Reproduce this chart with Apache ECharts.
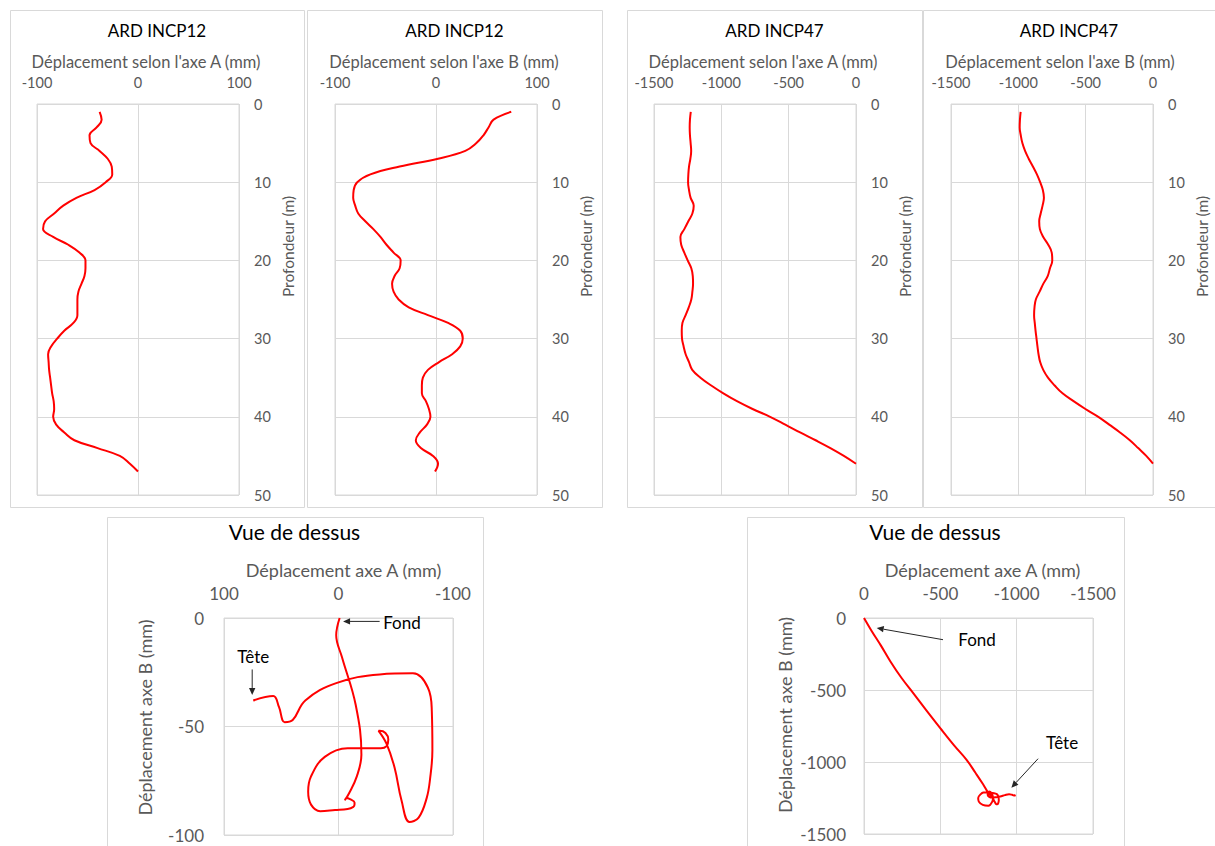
<!DOCTYPE html>
<html><head><meta charset="utf-8">
<script src="https://cdn.jsdelivr.net/npm/echarts@6/dist/echarts.min.js"></script>
<style>html,body{margin:0;padding:0;background:#fff}#c{width:1215px;height:846px}</style>
</head><body><div id="c"></div>
<script>
// ---------- DATA ----------
const depth12 = [1,2,3,4,5,6,7,8,9,10,11,12,13,14,15,16,17,18,19,20,21,22,23,24,25,26,27,28,29,30,31,32,33,34,35,36,37,38,39,40,41,42,43,44,45,46,47];
const incp12A = [-38,-36,-41,-48,-47,-38,-30,-26,-25.5,-32,-43,-61,-74,-83,-92,-94,-84,-69,-58,-52,-52,-53,-56,-59,-60,-60,-60,-64,-73,-80,-86,-89,-88.5,-88,-87,-86,-85,-83.5,-83,-84,-81,-73,-63,-40,-18,-8,0];
const incp12B = [74.5,57,52,47,40,29,2,-36,-65,-78,-81.5,-82,-80,-77,-70,-62,-55,-49,-42,-35,-36,-41,-43.5,-42,-37,-27,-8,12,24,26.5,24,16,3,-8,-13,-14,-14,-10,-7,-5.5,-9,-16,-20,-15,-3,2,-1];

const depth47 = [1,2,3,4,5,6,7,8,9,10,11,12,13,14,15,16,17,18,19,20,21,22,23,24,25,26,27,28,29,30,31,32,33,34,35,36,37,38,39,40,41,42,43,44,45,46];
const incp47A = [-1227,-1233,-1235,-1233,-1228,-1224,-1230,-1240,-1245,-1247,-1240,-1228,-1205,-1215,-1245,-1275,-1304,-1298,-1275,-1250,-1223,-1212,-1210,-1215,-1223,-1242,-1265,-1289,-1294,-1292,-1280,-1265,-1240,-1216,-1155,-1075,-985,-884,-768,-638,-525,-415,-300,-190,-90,0];
const incp47B = [-983,-988,-990,-982,-970,-950,-923,-892,-862,-838,-818,-810,-820,-834,-845,-840,-815,-778,-752,-748,-765,-782,-815,-842,-870,-880,-883,-878,-872,-865,-858,-850,-838,-815,-780,-730,-672,-590,-502,-406,-325,-245,-172,-110,-50,0];

const panelTitles = ['ARD INCP12','ARD INCP12','ARD INCP47','ARD INCP47','Vue de dessus','Vue de dessus'];
const profileAxisNames = ["Déplacement selon l'axe A (mm)","Déplacement selon l'axe B (mm)","Déplacement selon l'axe A (mm)","Déplacement selon l'axe B (mm)"];
const depthAxisName = 'Profondeur (m)';
const topAxisNameX = 'Déplacement axe A (mm)';
const topAxisNameY = 'Déplacement axe B (mm)';
const depthRange = [0, 50, 10];
const range12 = [-100, 100, 100];
const range47 = [-1500, 0, 500];
const top12Y = [-100, 0, 50];
const top47Y = [-1500, 0, 500];
const headLabel = 'Tête';
const bottomLabel = 'Fond';

// ---------- STYLE ----------
const FONT = 'Lato, "Open Sans", sans-serif';
const GRIDC = '#d9d9d9';
const TXT = '#595959';
const RED = '#ff0000';
const plain = v => String(v);

const grids = [
  {left:37, top:104, width:202, height:391},
  {left:335, top:104, width:202, height:391},
  {left:654, top:104, width:202, height:391},
  {left:951, top:104, width:202, height:391},
  {left:224, top:618, width:229, height:217},
  {left:864, top:618, width:229, height:216}
].map(g => Object.assign({show:true, borderColor:GRIDC, borderWidth:1, outerBoundsMode:'none', containLabel:false}, g));

function xAx(gi, name, r, nfs, lfs, nameGap, shift, inverse, margin) {
  return {gridIndex:gi, type:'value', position:'top', min:r[0], max:r[1], interval:r[2], inverse:!!inverse,
    name:name, nameLocation:'middle', nameGap:nameGap,
    nameTextStyle:{color:TXT, fontSize:nfs, fontFamily:FONT, padding:[0,0,0,shift*2]},
    axisLine:{show:false}, axisTick:{show:false},
    axisLabel:{color:TXT, fontSize:lfs, fontFamily:FONT, margin:margin, formatter:plain},
    splitLine:{show:true, lineStyle:{color:GRIDC, width:1}}};
}
function yAx(gi, name, r, nfs, lfs, pos, inverse, nameGap, shiftUp, margin) {
  return {gridIndex:gi, type:'value', position:pos, min:r[0], max:r[1], interval:r[2], inverse:!!inverse,
    name:name, nameLocation:'middle', nameRotate:90, nameGap:nameGap,
    nameTextStyle:{color:TXT, fontSize:nfs, fontFamily:FONT, padding:[0,0,0,shiftUp*2]},
    axisLine:{show:false}, axisTick:{show:false},
    axisLabel:{color:TXT, fontSize:lfs, fontFamily:FONT, margin:margin, formatter:plain},
    splitLine:{show:true, lineStyle:{color:GRIDC, width:1}}};
}

const xAxes = [
  xAx(0, profileAxisNames[0], range12, 16.5, 14.5, 34, 8, false, 14),
  xAx(1, profileAxisNames[1], range12, 16.5, 14.5, 34, 8, false, 14),
  xAx(2, profileAxisNames[2], range47, 16.5, 14.5, 34, 8, false, 14),
  xAx(3, profileAxisNames[3], range47, 16.5, 14.5, 34, 8, false, 14),
  xAx(4, topAxisNameX, range12, 18, 17, 39, 5, true, 16),
  xAx(5, topAxisNameX, range47, 18, 17, 39, 4, true, 16)
];
const yAxes = [
  yAx(0, depthAxisName, depthRange, 15.5, 14.5, 'right', true, 41, 53, 15),
  yAx(1, depthAxisName, depthRange, 15.5, 14.5, 'right', true, 41, 53, 15),
  yAx(2, depthAxisName, depthRange, 15.5, 14.5, 'right', true, 41, 53, 15),
  yAx(3, depthAxisName, depthRange, 15.5, 14.5, 'right', true, 41, 53, 15),
  yAx(4, topAxisNameY, top12Y, 18, 17, 'left', false, 70, 9, 20),
  yAx(5, topAxisNameY, top47Y, 18, 17, 'left', false, 70, 11, 18)
];

function lineSeries(idx, data) {
  return {type:'line', xAxisIndex:idx, yAxisIndex:idx, data:data, smooth:0.4, showSymbol:false, symbol:'none',
    lineStyle:{color:RED, width:2}, itemStyle:{color:RED}, animation:false, silent:true};
}
const series = [
  lineSeries(0, depth12.map((d,i)=>[incp12A[i], d])),
  lineSeries(1, depth12.map((d,i)=>[incp12B[i], d])),
  lineSeries(2, depth47.map((d,i)=>[incp47A[i], d])),
  lineSeries(3, depth47.map((d,i)=>[incp47B[i], d])),
  lineSeries(4, depth12.map((d,i)=>[incp12B[i], incp12A[i]])),
  lineSeries(5, depth47.map((d,i)=>[incp47B[i], incp47A[i]]))
];

const titleCenters = [[157,22,17],[454.5,22,17],[774.5,22,17],[1069,22,17],[294.5,521,21],[935,521,21]];
const titles = panelTitles.map((t,i)=>({text:t, left:titleCenters[i][0], top:titleCenters[i][1], textAlign:'center', padding:0,
  textStyle:{fontSize:titleCenters[i][2], fontWeight:'normal', color:'#000', fontFamily:FONT}}));

const borders = [[10,10,294,497],[307,10,295,497],[627,10,295,497],[923,10,293,497],[107,517,376,350],[747,517,377,350]]
  .map(b=>({type:'rect', shape:{x:b[0]+0.5, y:b[1]+0.5, width:b[2], height:b[3]}, style:{fill:'none', stroke:GRIDC, lineWidth:1}, silent:true, z:-1}));

const chart = echarts.init(document.getElementById('c'), null, {renderer:'svg'});
chart.setOption({
  animation:false, backgroundColor:'#fff',
  title:titles, grid:grids, xAxis:xAxes, yAxis:yAxes, series:series, graphic:borders
});

// ---------- annotations anchored to data points ----------
function arrow(tail, tip) {
  const dx = tip[0]-tail[0], dy = tip[1]-tail[1], L = Math.hypot(dx,dy), ux = dx/L, uy = dy/L;
  const hl = 7, hw = 3.2;
  const bx = tip[0]-ux*hl, by = tip[1]-uy*hl;
  return [
    {type:'line', shape:{x1:tail[0], y1:tail[1], x2:bx, y2:by}, style:{stroke:'#262626', lineWidth:1}, silent:true, z:10},
    {type:'polygon', shape:{points:[[tip[0],tip[1]],[bx-uy*hw, by+ux*hw],[bx+uy*hw, by-ux*hw]]}, style:{fill:'#262626'}, silent:true, z:10}
  ];
}
function label(text, x, y, align) {
  return {type:'text', x:x, y:y, style:{text:text, fill:'#000', font:'17px ' + FONT, textAlign:align, textVerticalAlign:'middle'}, silent:true, z:10};
}
const f12 = chart.convertToPixel({gridIndex:4}, [incp12B[incp12B.length-1], incp12A[incp12A.length-1]]);
const h12 = chart.convertToPixel({gridIndex:4}, [incp12B[0], incp12A[0]]);
const f47 = chart.convertToPixel({gridIndex:5}, [incp47B[incp47B.length-1], incp47A[incp47A.length-1]]);
const h47 = chart.convertToPixel({gridIndex:5}, [incp47B[0], incp47A[0]]);
const ann = [].concat(
  arrow([f12[0]+40, f12[1]+3.4], [f12[0]+3.4, f12[1]+3.4]),
  [label(bottomLabel, f12[0]+43.5, f12[1]+4.5, 'left')],
  arrow([h12[0]-1, h12[1]-31], [h12[0]-1, h12[1]-5.5]),
  [label(headLabel, h12[0], h12[1]-44, 'center')],
  arrow([f47[0]+79, f47[1]+21.7], [f47[0]+12.7, f47[1]+10]),
  [label(bottomLabel, f47[0]+94.3, f47[1]+21.7, 'left')],
  arrow([h47[0]+24, h47[1]-36], [h47[0]-2.7, h47[1]-7]),
  [label(headLabel, h47[0]+48, h47[1]-52, 'center')]
);
chart.setOption({graphic: borders.concat(ann)});
</script></body></html>
